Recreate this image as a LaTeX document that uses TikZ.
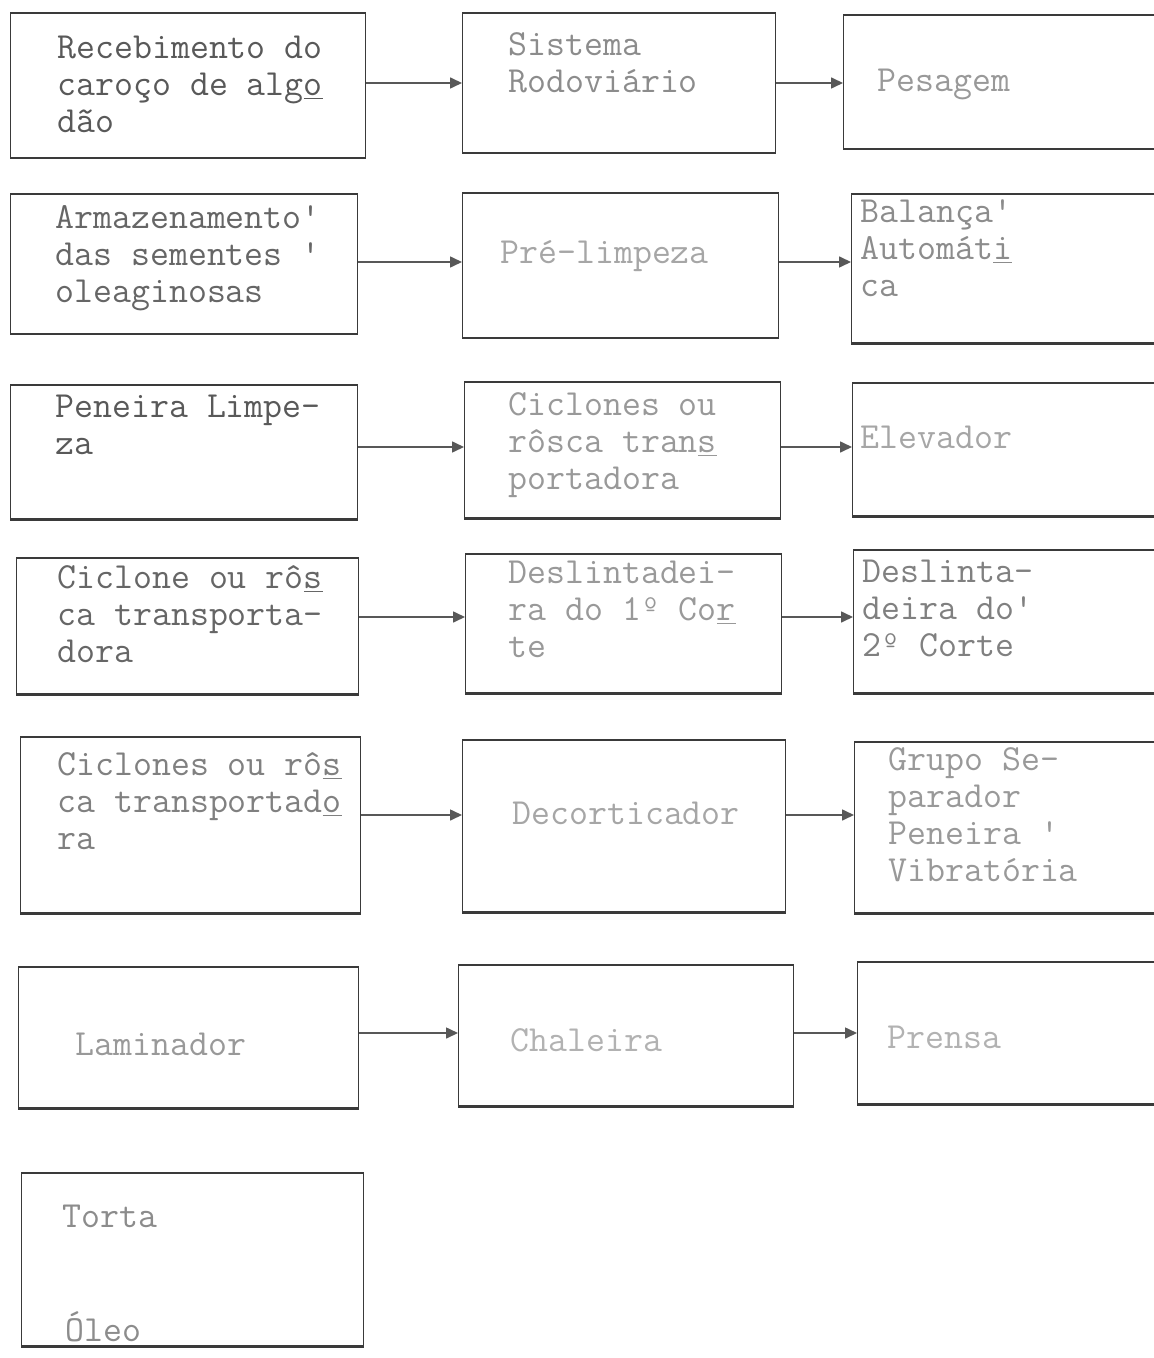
\documentclass[tikz,border=0pt]{standalone}
\usepackage{fontspec}
\usetikzlibrary{arrows.meta}
\definecolor{ink}{HTML}{3A3A3A}
\tikzset{
  box/.style={draw=ink, line width=0.6pt, inner sep=0, anchor=north west},
  edge/.style={ink, line width=1.3pt},
  txt/.style={anchor=north west, inner sep=0, align=left,
              font=\ttfamily\fontsize{18.4}{18.5}\selectfont},
  arr/.style={draw=ink!85, line width=0.8pt, -{Triangle[length=6pt,width=5.5pt]}},
}
\newcommand\fbx[5]{%
  \node[box, minimum width={(#4-#2)*0.5pt}, minimum height={(#5-#3)*0.5pt}] (#1) at (#2,#3) {};
  \draw[edge] (#1.north west) -- (#1.north east);
  \draw[edge] (#1.south west) -- (#1.south east);}
\newcommand\hy[1]{\underline{#1}}
\begin{document}
\begin{tikzpicture}[x=0.5pt,y=-0.5pt]
\useasboundingbox (0,0) rectangle (1154,1358);
\clip (0,0) rectangle (1154,1358);
% boxes
\fbx{a1}{10}{13}{365}{157}
\fbx{b1}{462}{13}{775}{152}
\fbx{c1}{843}{15}{1170}{148}
\fbx{a2}{10}{194}{357}{333}
\fbx{b2}{462}{193}{778}{337}
\fbx{c2}{851}{194}{1170}{342}
\fbx{a3}{10}{385}{357}{518}
\fbx{b3}{464}{382}{780}{517}
\fbx{c3}{852}{383}{1170}{515}
\fbx{a4}{16}{558}{358}{693}
\fbx{b4}{465}{554}{781}{692}
\fbx{c4}{853}{550}{1170}{692}
\fbx{a5}{20}{737}{360}{912}
\fbx{b5}{462}{740}{785}{911}
\fbx{c5}{854}{742}{1170}{912}
\fbx{a6}{18}{967}{358}{1107}
\fbx{b6}{458}{965}{793}{1105}
\fbx{c6}{857}{962}{1170}{1103}
\fbx{a7}{21}{1173}{363}{1345}
% texts
\node[txt, text=black!65] (ta1) at (57,32) {\strut Recebimento do\\caroço de alg\hy{o}\\dão};
\node[txt, text=black!45] (tb1) at (508,29) {\strut Sistema\\Rodoviário};
\node[txt, text=black!40] (tc1) at (877,65) {\strut Pesagem};
\node[txt, text=black!60] (ta2) at (55,202) {\strut Armazenamento'\\das sementes '\\oleaginosas};
\node[txt, text=black!35] (tb2) at (500,237) {\strut Pré-limpeza};
\node[txt, text=black!45] (tc2) at (860,196) {\strut Balança'\\Automát\hy{i}\\ca};
\node[txt, text=black!65] (ta3) at (55,391) {\strut Peneira Limpe-\\za};
\node[txt, text=black!40] (tb3) at (508,389) {\strut Ciclones ou\\rôsca tran\hy{s}\\portadora};
\node[txt, text=black!35] (tc3) at (860,422) {\strut Elevador};
\node[txt, text=black!60] (ta4) at (57,562) {\strut Ciclone ou rô\hy{s}\\ca transporta-\\dora};
\node[txt, text=black!40] (tb4) at (508,557) {\strut Deslintadei-\\ra do 1º Co\hy{r}\\te};
\node[txt, text=black!50] (tc4) at (862,556) {\strut Deslinta-\\deira do'\\2º Corte};
\node[txt, text=black!50] (ta5) at (57,749) {\strut Ciclones ou rô\hy{s}\\ca transportad\hy{o}\\ra};
\node[txt, text=black!35] (tb5) at (512,798) {\strut Decorticador};
\node[txt, text=black!40] (tc5) at (888,744) {\strut Grupo Se-\\parador\\Peneira '\\Vibratória};
\node[txt, text=black!40] (ta6) at (75,1029) {\strut Laminador};
\node[txt, text=black!30] (tb6) at (510,1025) {\strut Chaleira};
\node[txt, text=black!30] (tc6) at (887,1022) {\strut Prensa};
\node[txt, text=black!45] (ta7) at (62,1201) {\strut Torta};
\node[txt, text=black!45] (ta7b) at (65,1311) {\strut Óleo};
% arrow rows
\coordinate (r1) at (0,83);
\coordinate (r2) at (0,262);
\coordinate (r3) at (0,447);
\coordinate (r4) at (0,617);
\coordinate (r5) at (0,815);
\coordinate (r6) at (0,1033);
\draw[arr] (a1.east |- r1) -- (b1.west |- r1);
\draw[arr] (b1.east |- r1) -- (c1.west |- r1);
\draw[arr] (a2.east |- r2) -- (b2.west |- r2);
\draw[arr] (b2.east |- r2) -- (c2.west |- r2);
\draw[arr] (a3.east |- r3) -- (b3.west |- r3);
\draw[arr] (b3.east |- r3) -- (c3.west |- r3);
\draw[arr] (a4.east |- r4) -- (b4.west |- r4);
\draw[arr] (b4.east |- r4) -- (c4.west |- r4);
\draw[arr] (a5.east |- r5) -- (b5.west |- r5);
\draw[arr] (b5.east |- r5) -- (c5.west |- r5);
\draw[arr] (a6.east |- r6) -- (b6.west |- r6);
\draw[arr] (b6.east |- r6) -- (c6.west |- r6);
\end{tikzpicture}
\end{document}
